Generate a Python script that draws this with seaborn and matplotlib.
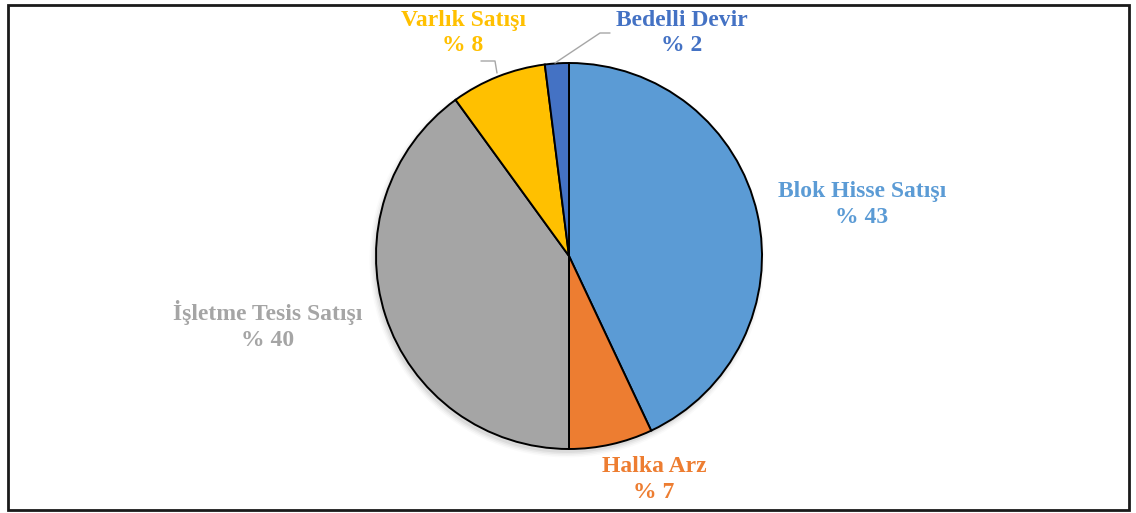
import matplotlib
matplotlib.use("Agg")
import matplotlib.pyplot as plt
import seaborn as sns
from matplotlib.patches import Rectangle, Circle

sns.set_theme(style="white")
plt.rcParams['font.family'] = ['Liberation Serif', 'DejaVu Serif']

categories = ["Blok Hisse Satışı", "Halka Arz", "İşletme Tesis Satışı", "Varlık Satışı", "Bedelli Devir"]
values = [43, 7, 40, 8, 2]
colors = ["#5B9BD5", "#ED7D31", "#A5A5A5", "#FFC000", "#4472C4"]
label_pos = [(1.518, 0.267), (0.44, -1.16), (-1.56, -0.36), (-0.549, 1.155), (0.585, 1.155)]

W, H = 1136, 513
fig = plt.figure(figsize=(W / 100, H / 100), dpi=100)
fig.patch.set_facecolor("white")
fig.patches.append(Rectangle((7.5 / W, 3.5 / H), (1129 - 7.5) / W, (510 - 5) / H,
                             transform=fig.transFigure, fill=False,
                             edgecolor="#1a1a1a", linewidth=2.0))

cx, cy, r = 569, 256, 193
ax = fig.add_axes([(cx - r) / W, (H - cy - r) / H, 2 * r / W, 2 * r / H])

# soft shadow
for i, a in enumerate([0.05, 0.04, 0.03, 0.02]):
    ax.add_patch(Circle((-0.01, -0.02), 1.0 + 0.008 * i, color="black", alpha=a,
                        zorder=0, clip_on=False, lw=0))

ax.pie(values, colors=colors, startangle=90, counterclock=False, radius=1.0,
       wedgeprops=dict(edgecolor="black", linewidth=1.4))
ax.set_xlim(-1, 1)
ax.set_ylim(-1, 1)
ax.set_aspect("equal")
ax.axis("off")

for cat, val, col, (lx, ly) in zip(categories, values, colors, label_pos):
    ax.text(lx, ly, f"{cat}\n% {val}", color=col, fontsize=17, fontweight="bold",
            ha="center", va="center", linespacing=1.3, clip_on=False)

# leader lines
ax.plot([(497 - cx) / r, (495 - cx) / r, (481 - cx) / r],
        [(cy - 73) / r, (cy - 61) / r, (cy - 61) / r],
        color="#A6A6A6", lw=1.0, clip_on=False)
ax.plot([(555 - cx) / r, (600 - cx) / r, (610 - cx) / r],
        [(cy - 63) / r, (cy - 33) / r, (cy - 33) / r],
        color="#A6A6A6", lw=1.0, clip_on=False)

fig.savefig("out.png", dpi=100, facecolor="white")
